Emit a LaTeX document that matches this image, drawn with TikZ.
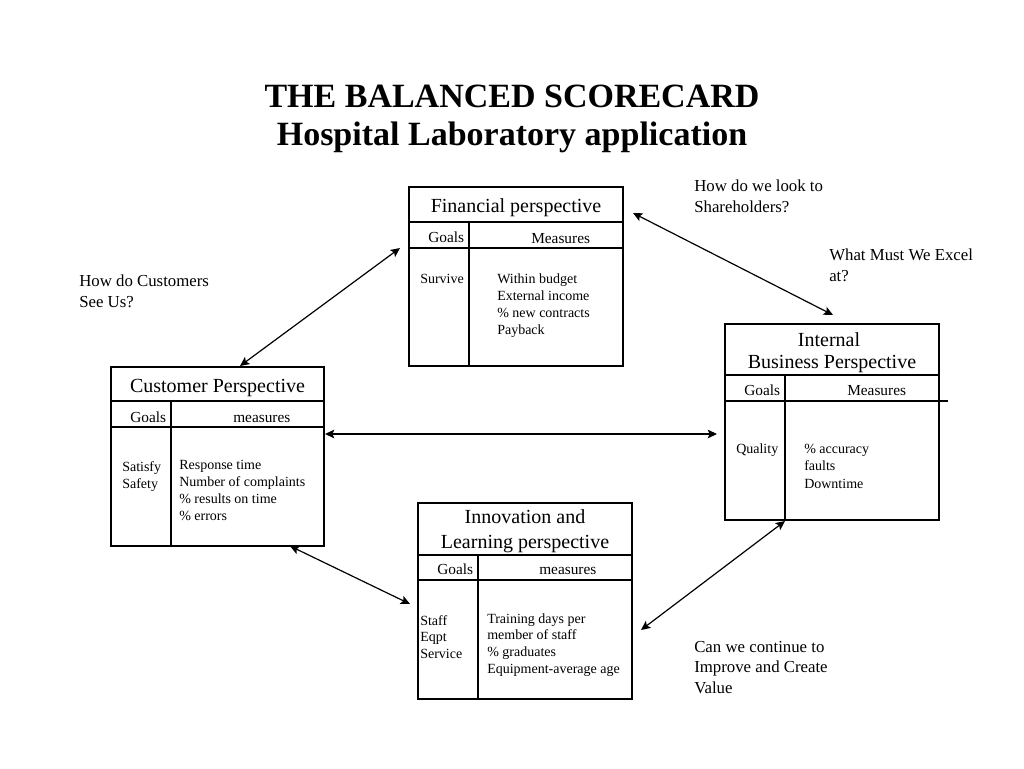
\documentclass[tikz,border=0pt]{standalone}
\usepackage{fontspec}
\setmainfont{Liberation Serif}
\usetikzlibrary{arrows.meta}
\begin{document}
\begin{tikzpicture}[x=0.75pt,y=-0.75pt,
  frame/.style={line width=1pt},
  conn/.style={line width=0.9pt,{Stealth[length=7pt,width=6.5pt,inset=1.5pt]}-{Stealth[length=7pt,width=6.5pt,inset=1.5pt]}},
  txt/.style={inner sep=0pt,anchor=base west,font=\fontsize{10.5}{12.75}\selectfont},
  hdr/.style={inner sep=0pt,anchor=base west,font=\fontsize{11.5}{13}\selectfont},
  ttl/.style={inner sep=0pt,anchor=base,font=\fontsize{15}{17.5}\selectfont},
  lbl/.style={inner sep=0pt,anchor=base west,font=\fontsize{12.6}{15.75}\selectfont},
  big/.style={inner sep=0pt,anchor=base,font=\bfseries\fontsize{25.5}{30}\selectfont}]
\useasboundingbox (0,0) rectangle (1024,768);

% main title
\node[big] (t1) at (512,107) {THE BALANCED SCORECARD};
\node[big] (t2) at (512,145) {Hospital Laboratory application};

% ---------- Financial box
\draw[frame] (409,187) rectangle (623,366);
\draw[frame] (409,222) -- (623,222);
\draw[frame] (409,248) -- (623,248);
\draw[frame] (469,222) -- (469,366);
\node[ttl] (fT) at (516,212) {Financial perspective};
\node[hdr] (fG) at (428,242) {Goals};
\node[hdr] (fM) at (531,243) {Measures};
\node[txt] (fS) at (420,283) {Survive};
\foreach \t [count=\i from 0] in {Within budget,External income,\% new contracts,Payback}
  \node[txt] (fm\i) at (497,283+17*\i) {\t};

% ---------- Customer box
\draw[frame] (111,367) rectangle (324,546);
\draw[frame] (111,401) -- (324,401);
\draw[frame] (111,427) -- (324,427);
\draw[frame] (171,401) -- (171,546);
\node[ttl] (cT) at (217.5,392) {Customer Perspective};
\node[hdr] (cG) at (130,422) {Goals};
\node[hdr] (cM) at (233,422) {measures};
\foreach \t [count=\i from 0] in {Satisfy,Safety}
  \node[txt] (cg\i) at (122,471+17*\i) {\t};
\foreach \t [count=\i from 0] in {Response time,Number of complaints,\% results on time,\% errors}
  \node[txt] (cm\i) at (179,469+17*\i) {\t};

% ---------- Internal box
\draw[frame] (725,324) rectangle (939,520);
\draw[frame] (725,375) -- (939,375);
\draw[frame] (725,401) -- (948,401);
\draw[frame] (785,375) -- (785,520);
\node[ttl] (iT1) at (829,346) {Internal};
\node[ttl] (iT2) at (832,368) {Business Perspective};
\node[hdr] (iG) at (744,395) {Goals};
\node[hdr] (iM) at (847,395) {Measures};
\node[txt] (iq) at (736,453) {Quality};
\foreach \t [count=\i from 0] in {\% accuracy,faults,Downtime}
  \node[txt] (im\i) at (804,453+17.5*\i) {\t};

% ---------- Innovation box
\draw[frame] (418,503) rectangle (632,699);
\draw[frame] (418,555) -- (632,555);
\draw[frame] (418,580) -- (632,580);
\draw[frame] (478,555) -- (478,699);
\node[ttl] (nT1) at (525,523) {Innovation and};
\node[ttl] (nT2) at (525,548) {Learning perspective};
\node[hdr] (nG) at (437,574) {Goals};
\node[hdr] (nM) at (539,574) {measures};
\foreach \t [count=\i from 0] in {Staff,Eqpt,Service}
  \node[txt] (ng\i) at (420,625+16.5*\i) {\t};
\foreach \t [count=\i from 0] in {Training days per,member of staff,\% graduates,Equipment-average age}
  \node[txt] (nm\i) at (487,623+16.8*\i) {\t};

% ---------- outside labels
\foreach \t [count=\i from 0] in {How do we look to,Shareholders?}
  \node[lbl] (la\i) at (694,191+21*\i) {\t};
\foreach \t [count=\i from 0] in {What Must We Excel,at?}
  \node[lbl] (lb\i) at (829,260+21*\i) {\t};
\foreach \t [count=\i from 0] in {How do Customers,See Us?}
  \node[lbl] (lc\i) at (79,286+21*\i) {\t};
\foreach \t [count=\i from 0] in {Can we continue to,Improve and Create,Value}
  \node[lbl] (ld\i) at (694,652+20.5*\i) {\t};

% ---------- connectors
\coordinate (fcA) at (400,248);
\coordinate (fcB) at (240,366);
\coordinate (fiA) at (633,213);
\coordinate (fiB) at (833,315);
\coordinate (ciA) at (325,434);
\coordinate (ciB) at (717,434);
\coordinate (cnA) at (290,546);
\coordinate (cnB) at (410,604);
\coordinate (inA) at (785,521);
\coordinate (inB) at (641,630);
\draw[conn] (fcA) -- (fcB);
\draw[conn] (fiA) -- (fiB);
\draw[conn] (ciA) -- (ciB);
\draw[conn] (cnA) -- (cnB);
\draw[conn] (inA) -- (inB);
\end{tikzpicture}
\end{document}
